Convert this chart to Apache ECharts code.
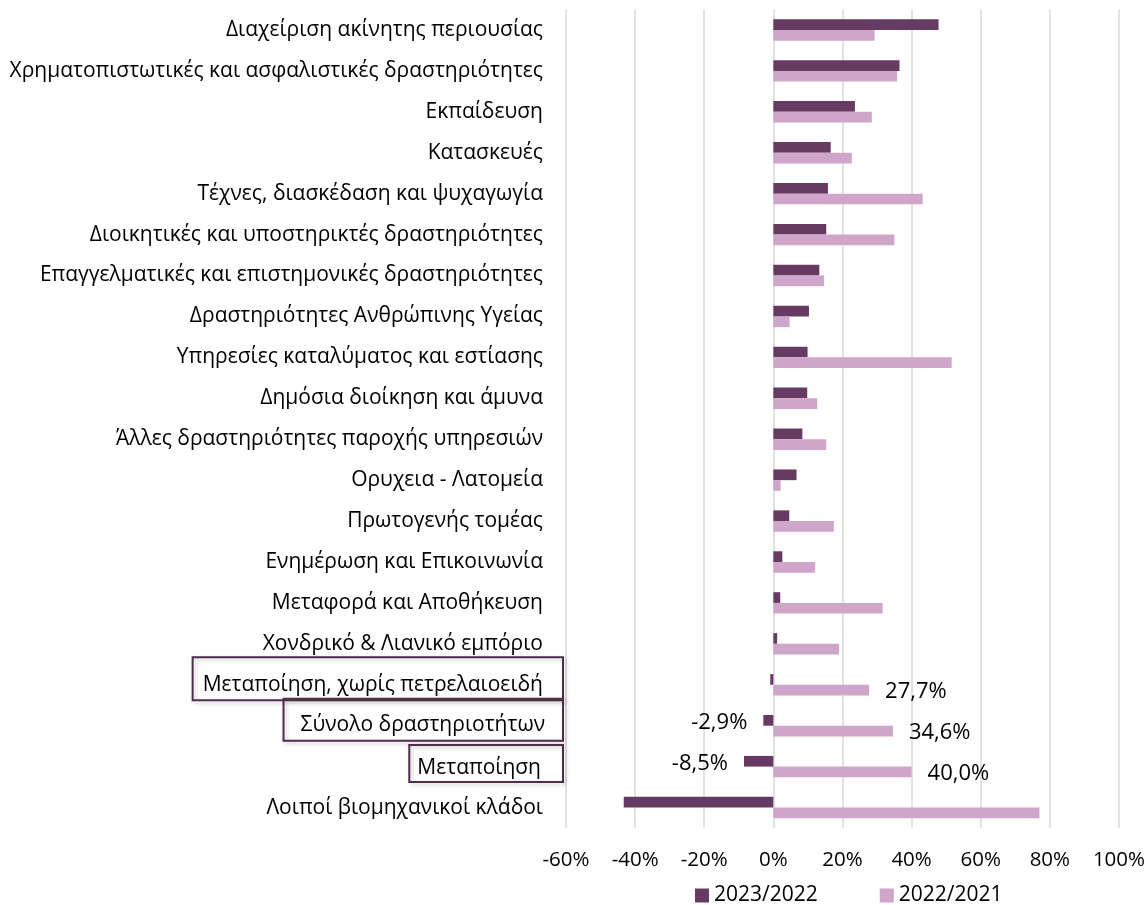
<!DOCTYPE html>
<html>
<head>
<meta charset="utf-8">
<script src="https://cdn.jsdelivr.net/npm/echarts@6/dist/echarts.min.js"></script>
<style>
  html, body { margin: 0; padding: 0; background: #fff; }
  #chart { width: 1148px; height: 905px; }
</style>
</head>
<body>
<div id="chart"></div>
<script>
const categories = [
  'Διαχείριση ακίνητης περιουσίας',
  'Χρηματοπιστωτικές και ασφαλιστικές δραστηριότητες',
  'Εκπαίδευση',
  'Κατασκευές',
  'Τέχνες, διασκέδαση και ψυχαγωγία',
  'Διοικητικές και υποστηρικτές δραστηριότητες',
  'Επαγγελματικές και επιστημονικές δραστηριότητες',
  'Δραστηριότητες Ανθρώπινης Υγείας',
  'Υπηρεσίες καταλύματος και εστίασης',
  'Δημόσια διοίκηση και άμυνα',
  'Άλλες δραστηριότητες παροχής υπηρεσιών',
  'Ορυχεια - Λατομεία',
  'Πρωτογενής τομέας',
  'Ενημέρωση και Επικοινωνία',
  'Μεταφορά και Αποθήκευση',
  'Χονδρικό & Λιανικό εμπόριο',
  'Μεταποίηση, χωρίς πετρελαιοειδή',
  'Σύνολο δραστηριοτήτων',
  'Μεταποίηση',
  'Λοιποί βιομηχανικοί κλάδοι'
]
const v2023 = [47.8, 36.5, 23.6, 16.6, 15.8, 15.3, 13.3, 10.3, 9.9, 9.8, 8.4, 6.7, 4.6, 2.6, 2.0, 1.1, -0.9, -2.9, -8.5, -43.3]
const v2022 = [29.3, 35.8, 28.5, 22.7, 43.2, 35.0, 14.7, 4.7, 51.6, 12.7, 15.3, 2.1, 17.5, 12.1, 31.6, 19.0, 27.7, 34.6, 40.0, 77.0]
const seriesNames = ['2023/2022', '2022/2021']

// which bars get a value label, and which category labels get a frame
const labelled2023 = ['Σύνολο δραστηριοτήτων', 'Μεταποίηση']
const labelled2022 = ['Μεταποίηση, χωρίς πετρελαιοειδή', 'Σύνολο δραστηριοτήτων', 'Μεταποίηση']
const framed = {
  'Μεταποίηση, χωρίς πετρελαιοειδή': 'b1',
  'Σύνολο δραστηριοτήτων': 'b2',
  'Μεταποίηση': 'b3'
}

const FONT = '"Open Sans", "Noto Sans", sans-serif'
const DARK = '#673a63'
const LIGHT = '#cfa5c9'
const FRAME = '#4e2d4c'
const CAT_SIZE = 21

const fmt = v => v.toFixed(1).replace('.', ',') + '%'

const boxStyle = pad => ({
  fontSize: CAT_SIZE, fontFamily: FONT, color: '#000', lineHeight: 24,
  padding: pad,
  borderColor: FRAME, borderWidth: 2,
  shadowColor: 'rgba(0,0,0,0.22)', shadowBlur: 4, shadowOffsetX: 2, shadowOffsetY: 2
})

function makeData(values, labelled, side) {
  return values.map((v, i) => {
    const show = labelled.includes(categories[i])
    return {
      value: v,
      label: show ? {
        show: true,
        position: side,
        distance: 16,
        offset: [0, 2],
        fontSize: 22,
        fontFamily: FONT,
        color: '#000',
        formatter: p => fmt(p.value)
      } : { show: false }
    }
  })
}

const chart = echarts.init(document.getElementById('chart'), null, { renderer: 'canvas' })

chart.setOption({
  animation: false,
  textStyle: { fontFamily: FONT },
  grid: { left: 566, right: 29, top: 9.5, bottom: 77, containLabel: false },
  legend: {
    top: 880,
    left: 690,
    itemWidth: 14,
    itemHeight: 14,
    itemGap: 62,
    icon: 'rect',
    textStyle: { fontSize: 21, fontFamily: FONT, color: '#000' },
    data: seriesNames
  },
  xAxis: {
    type: 'value',
    min: -60,
    max: 100,
    interval: 20,
    axisLine: { show: false },
    axisTick: { show: false },
    axisLabel: { fontSize: 20.5, fontFamily: FONT, color: '#000', margin: 22, formatter: v => v + '%' },
    splitLine: { lineStyle: { color: '#d9d9d9', width: 1.5 } }
  },
  yAxis: {
    type: 'category',
    inverse: true,
    data: categories,
    axisLine: { show: false },
    axisTick: { show: false },
    axisLabel: {
      margin: 3,
      interval: 0,
      formatter: v => framed[v] ? '{' + framed[v] + '|' + v + '}\n{' + framed[v] + 'g| }' : '{n|' + v + '}',
      rich: {
        n: { fontSize: CAT_SIZE, fontFamily: FONT, color: '#000', padding: [0, 20, 0, 0] },
        b1: boxStyle([17, 20, 5, 10]),
        b1g: { fontSize: 4, height: 12 },
        b2: boxStyle([16, 18, 5, 17]),
        b2g: { fontSize: 4, height: 12 },
        b3: boxStyle([12, 22, 4, 8]),
        b3g: { fontSize: 4, height: 6 }
      }
    }
  },
  series: [
    {
      name: seriesNames[0],
      type: 'bar',
      data: makeData(v2023, labelled2023, 'left'),
      itemStyle: { color: DARK },
      barWidth: 10.7,
      barGap: '0%'
    },
    {
      name: seriesNames[1],
      type: 'bar',
      data: makeData(v2022, labelled2022, 'right'),
      itemStyle: { color: LIGHT },
      barWidth: 10.7,
      barGap: '0%'
    }
  ]
})
</script>
</body>
</html>
